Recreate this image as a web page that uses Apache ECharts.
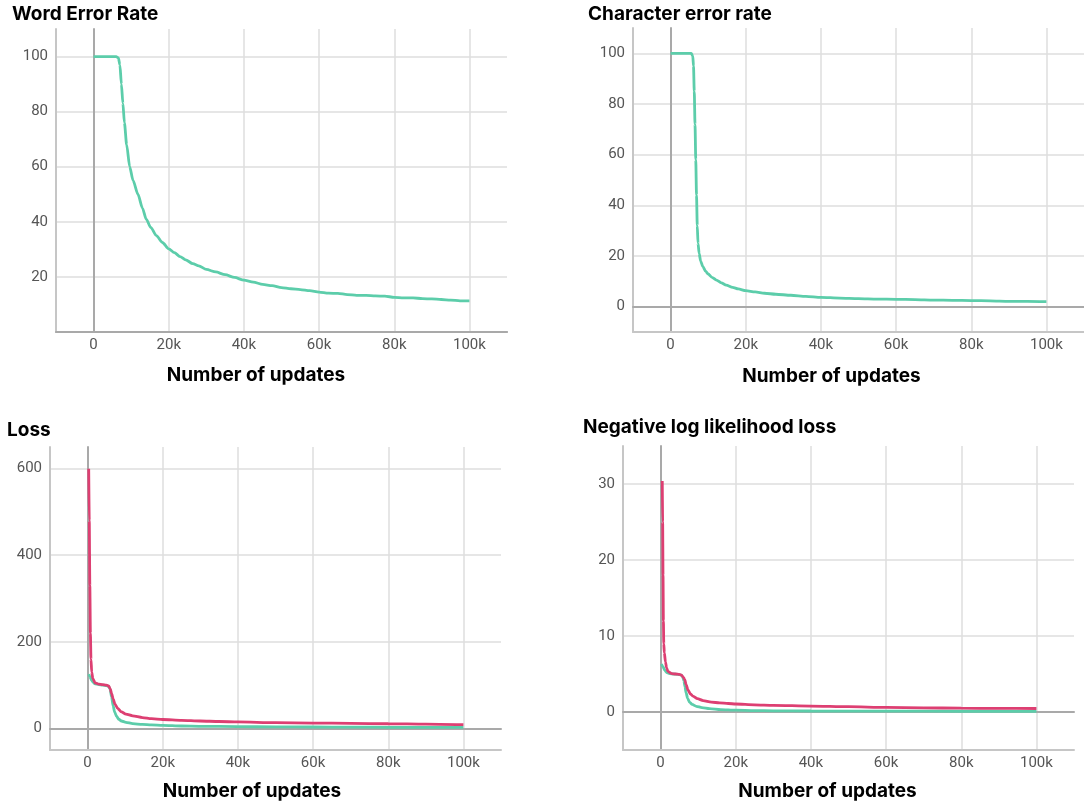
<!DOCTYPE html>
<html>
<head>
<meta charset="utf-8">
<script src="https://cdn.jsdelivr.net/npm/echarts@6/dist/echarts.min.js"></script>
<style>
  html, body { margin: 0; padding: 0; background: #ffffff; }
  #chart { width: 1084px; height: 807px; }
</style>
</head>
<body>
<div id="chart"></div>
<script>
// ---- Training curves (x = number of updates) ----

// Word error rate
const werSteps  = [0, 2000, 4000, 6000, 6600, 7000, 7400, 7800, 8200, 8800, 9600, 10500, 11800, 13000, 14000, 15200, 16700, 18300, 20000, 21500, 23000, 24500, 26400, 28000, 30000, 32500, 35000, 37500, 40000, 42500, 45000, 47500, 50000, 52500, 55000, 57500, 60000, 62500, 65000, 67500, 70000, 72500, 75000, 77500, 80000, 82500, 85000, 87500, 90000, 92500, 95000, 97500, 100000];
const werValues = [100, 100, 100, 100, 99.5, 97, 90, 83, 76, 68, 60, 55, 50, 45, 41, 38, 35, 32.5, 30.2, 28.8, 27.4, 26.2, 24.8, 24, 22.7, 21.8, 20.8, 19.8, 18.8, 18.1, 17.3, 16.8, 16.1, 15.7, 15.4, 15, 14.5, 14.1, 14, 13.6, 13.3, 13.3, 13.1, 13, 12.6, 12.4, 12.4, 12.1, 12, 11.8, 11.6, 11.3, 11.3];

// Character error rate
const cerSteps  = [0, 3000, 5500, 5900, 6100, 6300, 6500, 6700, 6900, 7100, 7300, 7600, 8000, 8600, 9300, 10000, 11000, 12200, 13500, 14800, 16500, 18000, 20000, 22500, 25000, 28000, 32000, 36000, 40000, 45000, 50000, 55000, 60000, 65000, 70000, 75000, 80000, 85000, 90000, 95000, 100000];
const cerValues = [100, 100, 100, 99, 95, 85, 72, 58, 44, 32, 25, 21, 18, 15.8, 14, 12.9, 11.6, 10.5, 9.4, 8.5, 7.6, 7, 6.3, 5.8, 5.3, 4.9, 4.5, 4.1, 3.7, 3.4, 3.2, 3, 2.9, 2.8, 2.6, 2.5, 2.4, 2.3, 2.1, 2.1, 2];

// Loss (pink run)
const lossPinkSteps  = [300, 450, 600, 750, 900, 1100, 1400, 2000, 3000, 4000, 5000, 5600, 6000, 6400, 6800, 7300, 8000, 9000, 10200, 12000, 14600, 17000, 20000, 25000, 30000, 35000, 40000, 50000, 60000, 70000, 80000, 90000, 100000];
const lossPinkValues = [600, 480, 330, 220, 160, 130, 115, 105, 102, 101, 100, 98, 92, 80, 68, 56, 46, 38, 33, 29, 25, 22.5, 20.5, 18.5, 17, 15.8, 14.8, 13.3, 12.3, 11.5, 10.7, 9.6, 8.4];

// Loss (teal run)
const lossTealSteps  = [300, 600, 1000, 1500, 2000, 3000, 4000, 5000, 5600, 6000, 6400, 6800, 7200, 7700, 8300, 9000, 10200, 12000, 14600, 17000, 20000, 25000, 30000, 40000, 50000, 60000, 70000, 80000, 90000, 100000];
const lossTealValues = [125, 120, 112, 106, 103, 101, 100, 99, 97, 90, 72, 52, 38, 28, 21, 17, 14, 11, 9, 8, 7, 5.5, 4.8, 4, 3.5, 3.1, 2.8, 2.5, 2.3, 2.1];

// Negative log likelihood loss (pink run)
const nllPinkSteps  = [450, 550, 650, 750, 850, 1000, 1300, 1600, 2000, 3000, 4000, 5000, 5600, 6000, 6400, 6800, 7300, 7900, 8600, 9800, 11300, 13500, 15700, 18000, 20000, 25000, 30000, 40000, 50000, 60000, 70000, 80000, 90000, 100000];
const nllPinkValues = [30.4, 25, 18, 12, 9, 7.8, 6.6, 5.8, 5.3, 5.05, 5, 4.95, 4.85, 4.6, 4.3, 3.6, 2.9, 2.4, 2.1, 1.75, 1.5, 1.3, 1.2, 1.12, 1.05, 0.95, 0.88, 0.78, 0.7, 0.6, 0.55, 0.5, 0.48, 0.46];

// Negative log likelihood loss (teal run)
const nllTealSteps  = [200, 600, 1100, 1600, 2400, 3500, 4500, 5500, 5900, 6200, 6500, 6800, 7200, 7700, 8400, 9500, 11000, 13000, 16000, 20000, 25000, 30000, 40000, 60000, 80000, 100000];
const nllTealValues = [6.3, 6.0, 5.5, 5.2, 5.05, 5, 4.95, 4.85, 4.6, 4.1, 3.3, 2.5, 1.8, 1.3, 1.0, 0.75, 0.58, 0.45, 0.32, 0.24, 0.19, 0.16, 0.13, 0.11, 0.1, 0.09];

// Axis ticks and titles
const xTicks = [0, 20000, 40000, 60000, 80000, 100000];
const werTicks = [20, 40, 60, 80, 100];
const cerTicks = [0, 20, 40, 60, 80, 100];
const lossTicks = [0, 200, 400, 600];
const nllTicks = [0, 10, 20, 30];
const titles = ['Word Error Rate', 'Character error rate', 'Loss', 'Negative log likelihood loss'];
const xName = 'Number of updates';

// ---- Styling / layout ----
const TEAL = '#5ccdaa';
const PINK = '#dd3f72';
const GRID_COLOR = '#dedede';
const BORDER_COLOR = '#c6c6c6';
const ZERO_COLOR = '#a9a9a9';

function zip(xs, ys) { return xs.map((x, i) => [x, ys[i]]); }
function kFmt(v) { return v === 0 ? '0' : (v / 1000) + 'k'; }

const panels = [
  { grid: { left: 56, top: 29, width: 451, height: 303 }, y: [0, 110], yTicks: werTicks, title: { left: 12, top: 5 }, nameGap: 34, namePad: 51,
    series: [{ steps: werSteps, values: werValues, color: TEAL }] },
  { grid: { left: 633, top: 28, width: 451, height: 304 }, y: [-10, 110], yTicks: cerTicks, title: { left: 588, top: 5 }, nameGap: 35, namePad: 54,
    series: [{ steps: cerSteps, values: cerValues, color: TEAL }] },
  { grid: { left: 50, top: 447, width: 451, height: 303 }, y: [-50, 650], yTicks: lossTicks, title: { left: 7, top: 421 }, nameGap: 32, namePad: 47,
    series: [{ steps: lossTealSteps, values: lossTealValues, color: TEAL }, { steps: lossPinkSteps, values: lossPinkValues, color: PINK }] },
  { grid: { left: 623, top: 446, width: 451, height: 304 }, y: [-5, 35], yTicks: nllTicks, title: { left: 583, top: 418 }, nameGap: 32, namePad: 42,
    series: [{ steps: nllTealSteps, values: nllTealValues, color: TEAL }, { steps: nllPinkSteps, values: nllPinkValues, color: PINK }] }
];

const option = {
  animation: false,
  backgroundColor: '#ffffff',
  title: [], grid: [], xAxis: [], yAxis: [], series: []
};

panels.forEach((p, i) => {
  option.title.push({
    text: titles[i], left: p.title.left, top: p.title.top, padding: 0,
    textStyle: { fontFamily: 'Inter', fontWeight: 'bold', fontSize: 19, color: '#000' }
  });
  option.grid.push(Object.assign({ containLabel: false }, p.grid));

  // main x axis: bottom border, tick labels, vertical grid lines
  option.xAxis.push({
    type: 'value', gridIndex: i, min: -10000, max: 110000, position: 'bottom',
    name: xName, nameLocation: 'middle', nameGap: p.nameGap,
    nameTextStyle: { fontFamily: 'Inter', fontWeight: 'bold', fontSize: 19, color: '#000', padding: [0, p.namePad, 0, 0] },
    axisLine: { show: true, onZero: false, lineStyle: { color: BORDER_COLOR, width: 2 } },
    axisTick: { show: false, customValues: xTicks },
    axisLabel: { customValues: xTicks, formatter: kFmt, margin: 6, fontFamily: 'Roboto', fontSize: 15, color: '#555555' },
    splitLine: { show: true, lineStyle: { color: GRID_COLOR, width: 1.5 } }
  });
  // x axis pinned to y = 0 (horizontal zero line)
  option.xAxis.push({
    type: 'value', gridIndex: i, min: -10000, max: 110000,
    axisLine: { show: true, onZero: true, onZeroAxisIndex: 2 * i, lineStyle: { color: ZERO_COLOR, width: 2 } },
    axisTick: { show: false }, axisLabel: { show: false }, splitLine: { show: false }
  });

  // main y axis: left border, tick labels, horizontal grid lines
  option.yAxis.push({
    type: 'value', gridIndex: i, min: p.y[0], max: p.y[1], position: 'left',
    axisLine: { show: true, onZero: false, lineStyle: { color: BORDER_COLOR, width: 2 } },
    axisTick: { show: false, customValues: p.yTicks },
    axisLabel: { customValues: p.yTicks, margin: 8, fontFamily: 'Roboto', fontSize: 15, color: '#555555' },
    splitLine: { show: true, lineStyle: { color: GRID_COLOR, width: 1.5 } }
  });
  // y axis pinned to x = 0 (vertical zero line)
  option.yAxis.push({
    type: 'value', gridIndex: i, min: p.y[0], max: p.y[1],
    axisLine: { show: true, onZero: true, onZeroAxisIndex: 2 * i, lineStyle: { color: ZERO_COLOR, width: 2 } },
    axisTick: { show: false }, axisLabel: { show: false }, splitLine: { show: false }
  });

  p.series.forEach(s => {
    option.series.push({
      type: 'line', xAxisIndex: 2 * i, yAxisIndex: 2 * i,
      data: zip(s.steps, s.values),
      showSymbol: false, symbol: 'none',
      smooth: 0.25, smoothMonotone: 'x',
      lineStyle: { color: s.color, width: 2.8 },
      z: 3
    });
  });
});

const chart = echarts.init(document.getElementById('chart'), null, { renderer: 'canvas' });
chart.setOption(option);
</script>
</body>
</html>
